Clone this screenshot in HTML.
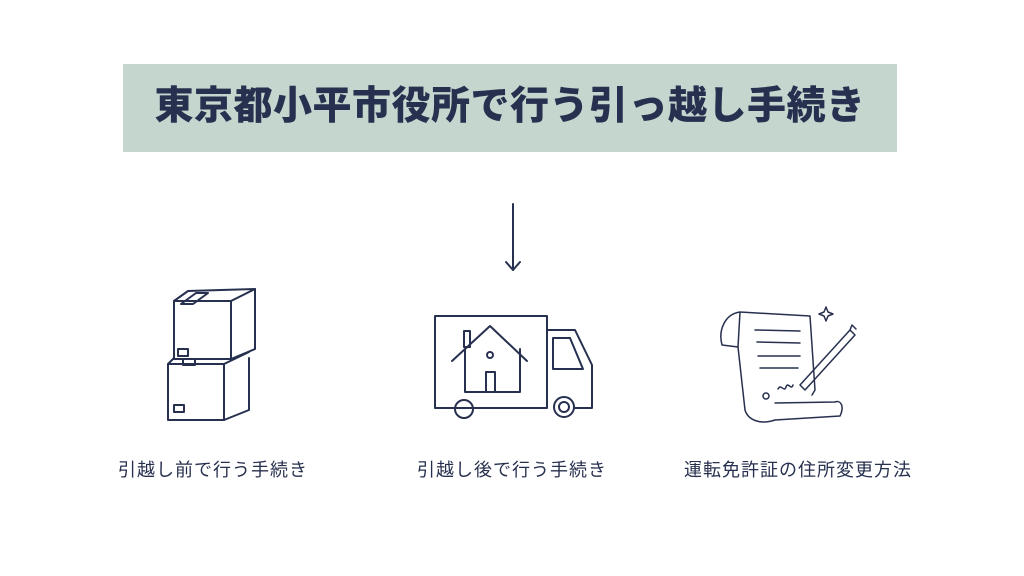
<!DOCTYPE html>
<html><head><meta charset="utf-8"><style>
body{margin:0;width:1024px;height:576px;background:#fff;position:relative;overflow:hidden;font-family:"Liberation Sans","Noto Sans CJK JP",sans-serif;color:#27304f}
.banner{position:absolute;left:123px;top:64px;width:774px;height:88px;background:#c5d6cf;}
.title{position:absolute;left:123px;top:64px;width:774px;height:88px;line-height:86px;text-align:center;font-size:39px;font-weight:900;color:#27304f;letter-spacing:0.5px}
.lbl{position:absolute;top:456px;font-size:18px;width:240px;text-align:center;color:#27304f;letter-spacing:1px}
svg{position:absolute;left:0;top:0}
</style></head><body>
<div class="banner"></div>
<div class="title">東京都小平市役所で行う引っ越し手続き</div>
<svg width="1024" height="576" fill="none" stroke="#27304f" stroke-width="2" stroke-linejoin="round" stroke-linecap="round">
<line x1="513" y1="204" x2="513" y2="270"/><polyline points="506,262 513,270 520,262"/>
<!-- boxes -->
<rect x="174" y="301" width="57" height="58"/><polyline points="174,301 188,291 255,289 231,301"/><polyline points="231,359 255,349 255,289"/>
<path d="M196,293 L208,293 L193,304 L181,304Z"/><rect x="178" y="349" width="10" height="7"/>
<rect x="168" y="364" width="56" height="56"/><polyline points="168,364 174,358"/><polyline points="224,420 249,410 249,358"/><line x1="224" y1="364" x2="249" y2="352"/>
<rect x="174" y="405" width="10" height="7"/><rect x="183" y="359" width="12" height="6"/>
<!-- truck -->
<rect x="435" y="316" width="112" height="92"/>
<path d="M547,330 L575,330 L592,365 L592,408 L575,408"/>
<path d="M553,338 L570,338 L583,369 L553,369Z"/>
<circle cx="464" cy="409" r="9"/><circle cx="564" cy="407" r="10"/><circle cx="564" cy="407" r="5"/>
<polyline points="452,361 490,326 527,361"/><polyline points="465,349 465,392 520,392 520,349"/>
<rect x="486" y="372" width="9" height="20"/><circle cx="490" cy="355" r="3"/><rect x="464" y="331" width="6" height="16"/>
<!-- scroll -->
<g stroke-width="1.5">
<path d="M740,312 C725,314 718,330 722,345 L738,347 L740,312 L810,316 L815,390 L812,395"/>
<path d="M738,347 L745,410 C748,420 760,425 775,420 L840,416 C845,405 840,400 835,402 L775,403"/>
<line x1="755" y1="330" x2="800" y2="331"/><line x1="757" y1="342" x2="800" y2="343"/><line x1="758" y1="356" x2="800" y2="356"/><line x1="760" y1="368" x2="798" y2="368"/>
<circle cx="766" cy="396" r="3"/><path d="M778,389 c3,-6 6,4 8,-2 c2,-6 5,4 7,-2"/>
<path d="M800,385 L850,330 L855,335 L805,390 Z"/><path d="M850,330 L852,325 L856,329"/>
<path d="M826,307 l2,5 5,2 -5,2 -2,5 -2,-5 -5,-2 5,-2z"/>
</g>
</svg>
<div class="lbl" style="left:93px">引越し前で行う手続き</div>
<div class="lbl" style="left:392px">引越し後で行う手続き</div>
<div class="lbl" style="left:678px">運転免許証の住所変更方法</div>
</body></html>
